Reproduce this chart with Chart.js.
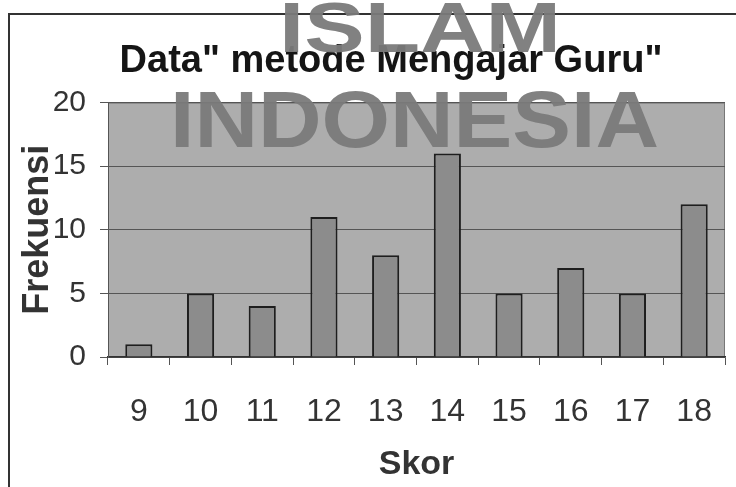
<!DOCTYPE html>
<html><head><meta charset="utf-8">
<script src="https://cdn.jsdelivr.net/npm/chart.js@4"></script>
<style>html,body{margin:0;padding:0;background:#fff}#wrap{width:736px;height:487px}</style>
</head><body><div id="wrap"><canvas id="c" width="736" height="487"></canvas></div>
<script>
const categories = ['9','10','11','12','13','14','15','16','17','18'];
const frekuensi = [1,5,4,11,8,16,5,7,5,12];
const yTickMin = 0, yTickMax = 20, yTickStep = 5;
const titleText = 'Data" metode Mengajar Guru"';
const xTitle = 'Skor';
const yTitle = 'Frekuensi';
const watermark = ['ISLAM', 'INDONESIA'];

const FONT = "'Liberation Sans', Arial, Helvetica, sans-serif";
Chart.defaults.font.family = FONT;

const framePlugin = {
  id: 'frame',
  afterLayout(chart) {
    if (chart.titleBlock) { chart.titleBlock.left = 52; chart.titleBlock.right = 730; }
  },
  beforeDraw(chart) {
    const {ctx, chartArea: a} = chart;
    ctx.save();
    ctx.fillStyle = '#fff';
    ctx.fillRect(0, 0, chart.width, chart.height);
    ctx.strokeStyle = '#333';
    ctx.lineWidth = 2;
    ctx.strokeRect(9, 14, 900, 700);
    ctx.fillStyle = '#adadad';
    ctx.fillRect(a.left, a.top, a.right - a.left, a.bottom - a.top);
    ctx.strokeStyle = '#777';
    ctx.lineWidth = 1;
    ctx.strokeRect(a.left + 0.5, a.top + 0.5, a.right - a.left - 1, a.bottom - a.top - 1);
    ctx.restore();
  }
};

function fitText(ctx, text, x0, x1, baseline, size) {
  ctx.font = '600 ' + size + 'px ' + FONT;
  const w = ctx.measureText(text).width;
  ctx.save();
  ctx.translate(x0, baseline);
  ctx.scale((x1 - x0) / w, 1);
  ctx.fillText(text, 0, 0);
  ctx.restore();
}

const watermarkPlugin = {
  id: 'wm',
  afterDraw(chart) {
    const ctx = chart.ctx;
    ctx.save();
    ctx.fillStyle = 'rgba(122,122,122,0.95)';
    ctx.textBaseline = 'alphabetic';
    ctx.textAlign = 'left';
    fitText(ctx, watermark[0], 279, 561, 52, 70);
    fitText(ctx, watermark[1], 170, 659, 147, 80);
    ctx.restore();
  }
};

new Chart(document.getElementById('c'), {
  type: 'bar',
  data: {
    labels: categories,
    datasets: [{
      data: frekuensi,
      backgroundColor: '#8c8c8c',
      borderColor: '#1e1e1e',
      borderWidth: 2,
      barPercentage: 0.44,
      categoryPercentage: 1.0
    }]
  },
  options: {
    responsive: false,
    animation: false,
    devicePixelRatio: 1,
    layout: { padding: { left: 0, right: 11, top: 0, bottom: 0 } },
    plugins: {
      legend: { display: false },
      tooltip: { enabled: false },
      title: {
        display: true, text: titleText, color: '#151515',
        font: { size: 38, weight: 'bold' },
        padding: { top: 39, bottom: 18 }
      }
    },
    scales: {
      x: {
        grid: { offset: true, drawOnChartArea: false, tickLength: 8, color: '#555', lineWidth: 1 },
        border: { display: true, color: '#333', width: 1.5 },
        ticks: { font: { size: 32 }, color: '#333', padding: 28, maxRotation: 0 },
        title: { display: true, text: xTitle, color: '#333', font: { size: 34, weight: 'bold' }, padding: { top: 0, bottom: 2 } },
        afterFit(s) { s.height = 130; s.paddingLeft = 0; s.paddingRight = 0; }
      },
      y: {
        min: yTickMin, max: yTickMax,
        ticks: { stepSize: yTickStep, font: { size: 30 }, color: '#333', padding: 14 },
        grid: { color: '#555', tickLength: 8, lineWidth: 1 },
        border: { display: true, color: '#555', width: 1 },
        title: { display: true, text: yTitle, color: '#333', font: { size: 36, weight: 'bold' }, padding: { top: 16, bottom: 0 } },
        afterFit(s) { s.width = 108; }
      }
    }
  },
  plugins: [framePlugin, watermarkPlugin]
});
</script>
</body></html>
